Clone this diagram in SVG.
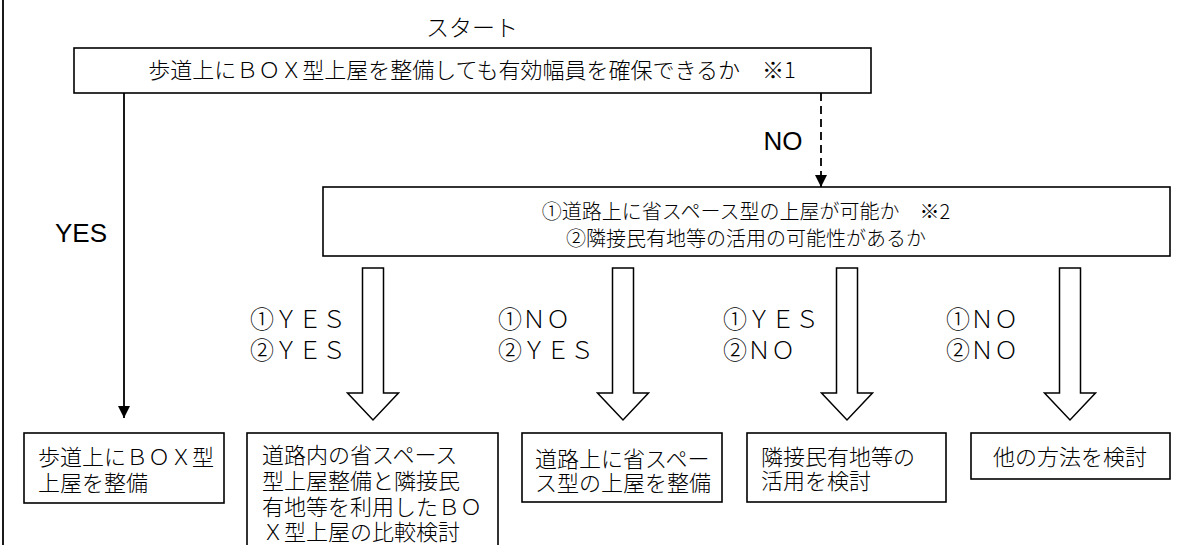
<svg xmlns="http://www.w3.org/2000/svg" width="1192" height="545" viewBox="0 0 1192 545">
<defs>
<style>
.box{fill:#fff;stroke:#000;stroke-width:1.6}
.jp{font-family:"Noto Sans CJK JP","Noto Sans CJK SC",sans-serif;font-weight:300;fill:#000}
.lat{font-family:"Liberation Sans",Arial,sans-serif;fill:#000}
.ln{stroke:#000;stroke-width:1.8;fill:none}
.blk{fill:#fff;stroke:#000;stroke-width:1.5;stroke-linejoin:miter}
</style>
<marker id="ah" viewBox="0 0 12 12" refX="12" refY="6" markerWidth="12" markerHeight="12" markerUnits="userSpaceOnUse" orient="auto">
<path d="M0,0 L12,6 L0,12 Z" fill="#000"/>
</marker>
</defs>
<rect width="1192" height="545" fill="#fff"/>
<line x1="3" y1="0" x2="3" y2="545" class="ln"/>

<text class="jp" x="472" y="36" font-size="23" text-anchor="middle">スタート</text>

<g id="q1">
<rect class="box" x="74" y="48" width="797" height="45"/>
<text class="jp" x="472" y="78" font-size="22" text-anchor="middle">歩道上にＢＯＸ型上屋を整備しても有効幅員を確保できるか　※1</text>
</g>

<g id="q2">
<rect class="box" x="323" y="187" width="847" height="69"/>
<text class="jp" font-size="20" text-anchor="middle"><tspan x="746" y="219">①道路上に省スペース型の上屋が可能か　※2</tspan><tspan x="746" y="246">②隣接民有地等の活用の可能性があるか</tspan></text>
</g>

<g id="r1">
<rect class="box" x="24" y="433" width="200" height="70"/>
<text class="jp" font-size="22"><tspan x="38" y="465">歩道上にＢＯＸ型</tspan><tspan x="38" y="491">上屋を整備</tspan></text>
</g>

<g id="r2">
<rect class="box" x="247" y="433" width="251" height="130"/>
<text class="jp" font-size="22"><tspan x="262" y="463">道路内の省スペース</tspan><tspan x="262" y="489">型上屋整備と隣接民</tspan><tspan x="262" y="515">有地等を利用したＢＯ</tspan><tspan x="262" y="540">Ｘ型上屋の比較検討</tspan></text>
</g>

<g id="r3">
<rect class="box" x="522" y="433" width="200" height="69"/>
<text class="jp" font-size="22"><tspan x="535" y="467">道路上に省スペー</tspan><tspan x="535" y="491">ス型の上屋を整備</tspan></text>
</g>

<g id="r4">
<rect class="box" x="747" y="433" width="199" height="69"/>
<text class="jp" font-size="22"><tspan x="761" y="465">隣接民有地等の</tspan><tspan x="761" y="489">活用を検討</tspan></text>
</g>

<g id="r5">
<rect class="box" x="971" y="433" width="199" height="46"/>
<text class="jp" x="1070" y="465" font-size="22" text-anchor="middle">他の方法を検討</text>
</g>

<g id="connectors">
<line x1="124" y1="93" x2="124" y2="418" class="ln" marker-end="url(#ah)"/>
<text class="lat" x="81" y="242" font-size="26" text-anchor="middle">YES</text>
<line x1="821" y1="93" x2="821" y2="187" class="ln" stroke-dasharray="8 5" marker-end="url(#ah)"/>
<text class="lat" x="783" y="150" font-size="26" text-anchor="middle">NO</text>

<path class="blk" d="M362.5,268 H383.5 V393 H398.5 L373,420 L347.5,393 H362.5 Z"/>
<path class="blk" d="M612.5,268 H633.5 V393 H648.5 L623,420 L597.5,393 H612.5 Z"/>
<path class="blk" d="M836.5,268 H857.5 V393 H872.5 L847,420 L821.5,393 H836.5 Z"/>
<path class="blk" d="M1059.5,268 H1080.5 V393 H1095.5 L1070,420 L1044.5,393 H1059.5 Z"/>

<text class="jp" font-size="24"><tspan x="250" y="328">①ＹＥＳ</tspan><tspan x="250" y="359">②ＹＥＳ</tspan></text>
<text class="jp" font-size="24"><tspan x="498" y="328">①ＮＯ</tspan><tspan x="498" y="359">②ＹＥＳ</tspan></text>
<text class="jp" font-size="24"><tspan x="723" y="328">①ＹＥＳ</tspan><tspan x="723" y="359">②ＮＯ</tspan></text>
<text class="jp" font-size="24"><tspan x="946" y="328">①ＮＯ</tspan><tspan x="946" y="359">②ＮＯ</tspan></text>
</g>
</svg>
